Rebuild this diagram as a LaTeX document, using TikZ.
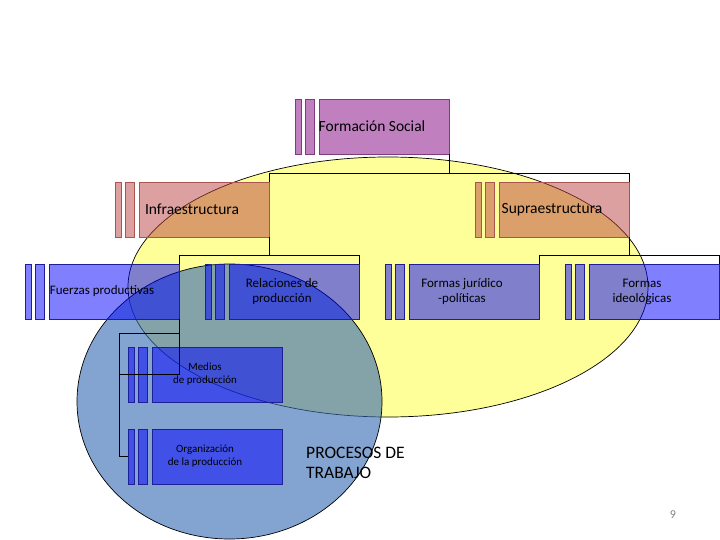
\documentclass[tikz,border=0pt]{standalone}
\usepackage{fontspec}
\setmainfont{Carlito}
\definecolor{socialfill}{RGB}{129,1,129}
\definecolor{socialline}{RGB}{125,60,125}
\definecolor{structfill}{RGB}{185,65,65}
\definecolor{structline}{RGB}{170,85,80}
\definecolor{forcefill}{RGB}{1,1,255}
\definecolor{forceline}{RGB}{30,30,150}
\definecolor{yellowzone}{RGB}{255,255,153}
\definecolor{bluezone}{RGB}{53,106,178}

\begin{document}
\begin{tikzpicture}[x=1pt, y=-1pt,
    box/.style={rectangle, draw, line width=0.8pt, fill opacity=0.5, minimum height=55pt, inner sep=0pt},
    mainbox/.style={box, minimum width=130pt},
    bara/.style={box, minimum width=6pt},
    barb/.style={box, minimum width=9pt},
    social/.style={fill=socialfill, draw=socialline},
    struct/.style={fill=structfill, draw=structline},
    force/.style={fill=forcefill, draw=forceline},
    txt/.style={align=center, inner sep=0pt, text=black},
    big/.style={txt, font=\fontsize{15.5}{18}\selectfont},
    mid/.style={txt, font=\fontsize{13}{15}\selectfont},
    small/.style={txt, font=\fontsize{11}{13}\selectfont},
    link/.style={draw=black, line width=0.8pt},
    zone/.style={draw=black, line width=0.7pt}
]
\useasboundingbox (0,0) rectangle (720,540);

% Zones
\draw[zone, fill=yellowzone] (388,287) ellipse [x radius=260pt, y radius=130pt];
\draw[zone, fill=bluezone, fill opacity=0.61] (229.5,401.5) ellipse [x radius=152.5pt, y radius=137.5pt];

% Level 1: Formacion Social
\node[bara, social] (fs-a) at (298,126.5) {};
\node[barb, social] (fs-b) at (309.5,126.5) {};
\node[mainbox, social] (fs) at (384,126.5) {};

% Level 2: Infra / Supra
\node[bara, struct] (infra-a) at (118,209.5) {};
\node[barb, struct] (infra-b) at (129.5,209.5) {};
\node[mainbox, struct] (infra) at (204,209.5) {};
\node[bara, struct] (supra-a) at (478,209.5) {};
\node[barb, struct] (supra-b) at (489.5,209.5) {};
\node[mainbox, struct] (supra) at (564,209.5) {};

% Level 3
\node[bara, force] (fuerzas-a) at (28,291.5) {};
\node[barb, force] (fuerzas-b) at (39.5,291.5) {};
\node[mainbox, force] (fuerzas) at (114,291.5) {};
\node[bara, force] (relac-a) at (208,291.5) {};
\node[barb, force] (relac-b) at (219.5,291.5) {};
\node[mainbox, force] (relac) at (294,291.5) {};
\node[bara, force] (jurid-a) at (388,291.5) {};
\node[barb, force] (jurid-b) at (399.5,291.5) {};
\node[mainbox, force] (jurid) at (474,291.5) {};
\node[bara, force] (ideol-a) at (568,291.5) {};
\node[barb, force] (ideol-b) at (579.5,291.5) {};
\node[mainbox, force] (ideol) at (654,291.5) {};

% Level 4: hanging under Fuerzas productivas
\node[bara, force] (medios-a) at (131,374.5) {};
\node[barb, force] (medios-b) at (142.5,374.5) {};
\node[mainbox, force] (medios) at (217,374.5) {};
\node[bara, force] (org-a) at (131,456.5) {};
\node[barb, force] (org-b) at (142.5,456.5) {};
\node[mainbox, force] (org) at (217,456.5) {};

% Connectors
\draw[link] (fs.south east) -- ++(0,19) -| (infra.north east);
\draw[link] (fs.south east) -- ++(0,19) -| (supra.north east);
\draw[link] (infra.south east) -- ++(0,18) -| (fuerzas.north east);
\draw[link] (infra.south east) -- ++(0,18) -| (relac.north east);
\draw[link] (supra.south east) -- ++(0,18) -| (jurid.north east);
\draw[link] (supra.south east) -- ++(0,18) -| (ideol.north east);
\draw[link] (fuerzas.south east) -- (fuerzas.south east |- medios.east) -- ++(-60,0);
\draw[link] (fuerzas.south east) ++(0,14) -- ++(-60,0) |- (org-a.west);

% Labels
\node[big] (fs-t) at (372,126.5) {Formación Social};
\node[big] (infra-t) at (192,209.5) {Infraestructura};
\node[big] (supra-t) at (552,209.5) {Supraestructura};
\node[mid] (fuerzas-t) at (102,291.5) {Fuerzas productivas};
\node[mid] (relac-t) at (282,291.5) {Relaciones de\\producción};
\node[mid] (jurid-t) at (462,291.5) {Formas jurídico\\-políticas};
\node[mid] (ideol-t) at (642,291.5) {Formas\\ideológicas};
\node[small] (medios-t) at (205,374.5) {Medios\\de producción};
\node[small] (org-t) at (205,456.5) {Organización\\de la producción};
\node[txt, anchor=west, align=left, font=\fontsize{17.5}{20}\selectfont] (proc) at (306,463) {PROCESOS DE\\TRABAJO};
\node[txt, text=gray, font=\fontsize{12}{14}\selectfont] (page) at (673,515) {9};

\end{tikzpicture}
\end{document}
